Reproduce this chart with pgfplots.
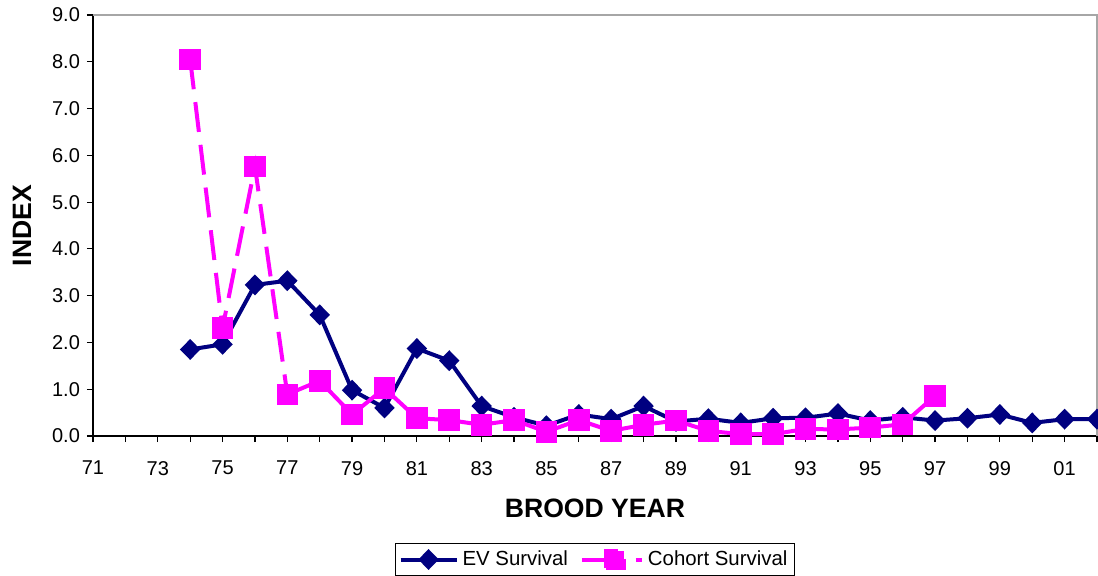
\documentclass[border=0pt]{standalone}
\usepackage{pgfplots}
\pgfplotsset{compat=1.18}
\usepackage{fontspec}
\setmainfont{Liberation Sans}
\definecolor{evnavy}{HTML}{000080}
\definecolor{cohmag}{HTML}{FF00FF}
\begin{document}
\begin{tikzpicture}
\begin{axis}[
  scale only axis, width=502pt, height=210.5pt,
  xmin=71, xmax=102, ymin=0, ymax=9,
  axis x line*=bottom, axis y line*=left,
  axis line style={black, line width=0.8pt},
  tick align=outside, tick style={black, line width=0.6pt},
  major tick length=3pt, minor tick length=3pt,
  xtick={71,73,...,101},
  xticklabels={71,73,75,77,79,81,83,85,87,89,91,93,95,97,99,01},
  minor xtick={72,74,...,102},
  ytick={0,1,...,9},
  yticklabel style={/pgf/number format/fixed,/pgf/number format/fixed zerofill,/pgf/number format/precision=1},
  /pgf/number format/assume math mode=true,
  tick label style={font=\fontsize{10}{12}\selectfont},
  xticklabel style={yshift=-6pt},
  xlabel={\textbf{BROOD YEAR}}, ylabel={\textbf{INDEX}},
  label style={font=\fontsize{13.3}{15}\selectfont},
  xlabel style={at={(axis description cs:0.5,-0.171)}, anchor=center},
  ylabel style={at={(axis description cs:-0.0707,0.5)}, anchor=center},
  clip=false,
  legend columns=2,
  legend style={at={(0.5,-53.5pt)}, anchor=north, draw=black, line width=0.6pt,
    font=\fontsize{10.2}{12}\selectfont, inner sep=1.5pt,
    /tikz/every even column/.append style={column sep=4pt}},
]
\draw[gray!70, line width=0.8pt] (rel axis cs:0,1) -- (rel axis cs:1,1) -- (rel axis cs:1,0);
\addplot[evnavy, line width=2pt, mark=diamond*, mark size=3.8pt, mark options={solid, fill=evnavy, xscale=1.3},
  legend image code/.code={\draw[evnavy, line width=2pt] (0pt,0pt) -- (28pt,0pt);
    \fill[evnavy] (14pt,3.8pt) -- (17.7pt,0pt) -- (14pt,-3.8pt) -- (10.3pt,0pt) -- cycle;}] coordinates {
(74,1.85) (75,1.96) (76,3.23) (77,3.32) (78,2.59) (79,0.98) (80,0.60) (81,1.87) (82,1.61)
(83,0.64) (84,0.40) (85,0.22) (86,0.46) (87,0.36) (88,0.64) (89,0.31) (90,0.37) (91,0.28)
(92,0.38) (93,0.39) (94,0.48) (95,0.33) (96,0.40) (97,0.33) (98,0.38) (99,0.46) (100,0.28)
(101,0.36) (102,0.36)};
\addlegendentry{EV Survival}
\addplot[cohmag, line width=2pt, dash pattern=on 15pt off 6.5pt, mark=square*, mark size=4.4pt, mark options={solid, fill=cohmag},
  legend image code/.code={\draw[cohmag, line width=2pt] (0pt,0pt) -- (16pt,0pt);
    \draw[cohmag, line width=2pt] (27pt,0pt) -- (30pt,0pt);
    \fill[cohmag] (12pt,-4.4pt) rectangle (20.8pt,4.4pt);}] coordinates {
(74,8.05) (75,2.31) (76,5.76) (77,0.89)};
\addlegendentry{Cohort Survival}
\addplot[cohmag, line width=2pt, mark=square*, mark size=4.4pt, mark options={solid, fill=cohmag}, forget plot] coordinates {
(77,0.89) (78,1.18) (79,0.46) (80,1.02) (81,0.38) (82,0.34) (83,0.24) (84,0.34) (85,0.09)
(86,0.34) (87,0.11) (88,0.24) (89,0.33) (90,0.11) (91,0.04) (92,0.04) (93,0.15) (94,0.14)
(95,0.18) (96,0.25) (97,0.86)};
\end{axis}
\pgfresetboundingbox
\path (-46.5pt,-69.5pt) rectangle (502.5pt,218pt);
\end{tikzpicture}
\end{document}
